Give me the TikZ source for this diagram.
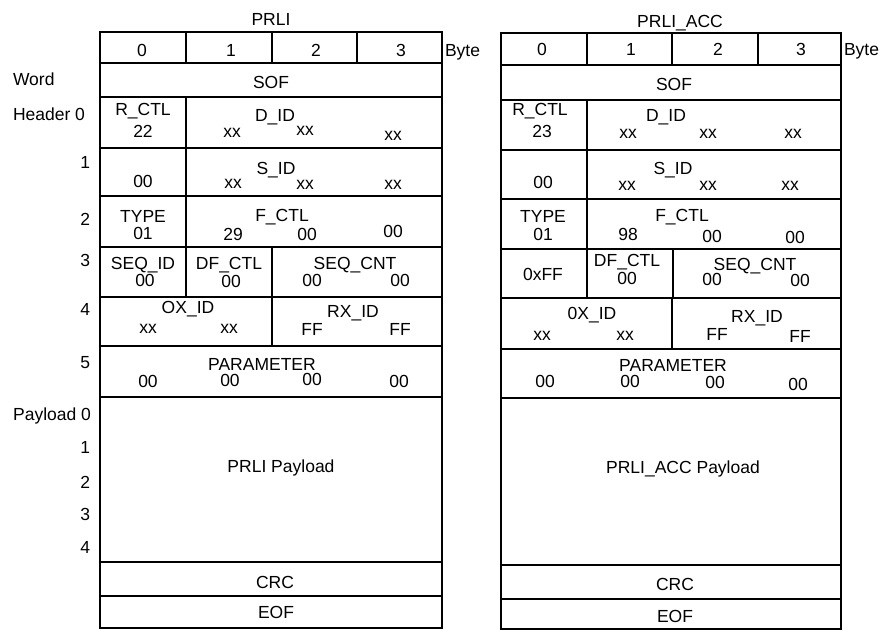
\documentclass[tikz,border=0pt]{standalone}
\usepackage{fontspec}
\setmainfont{Liberation Sans}
\tikzset{
  cellbox/.style={draw=black, line width=1.5pt, rectangle, inner sep=0pt, outer sep=0pt},
  txt/.style={anchor=base, inner sep=0pt, outer sep=0pt, font=\fontsize{17.5}{20}\selectfont},
  txtw/.style={txt, anchor=base west},
  txte/.style={txt, anchor=base east}
}
\newcommand\fcell[5]{\node[cellbox, minimum width={#4-#2}, minimum height={#5-#3}] (#1) at ({(#2+#4)/2},{(#3+#5)/2}) {};}
\newcommand\ftxt[4]{\node[txt] (#1) at (#2,#3) {#4};}
\begin{document}
\begin{tikzpicture}[x=1pt,y=-1pt]
\useasboundingbox (0,0) rectangle (886,630);
% ---------------- left table (PRLI) ----------------
\fcell{lb0}{100}{32}{186}{63}
\fcell{lb1}{186}{32}{272}{63}
\fcell{lb2}{272}{32}{357}{63}
\fcell{lb3}{357}{32}{442}{63}
\fcell{lsof}{100}{63}{442}{97}
\fcell{lh0a}{100}{97}{186}{148}
\fcell{lh0b}{186}{97}{442}{148}
\fcell{lh1a}{100}{148}{186}{196}
\fcell{lh1b}{186}{148}{442}{196}
\fcell{lh2a}{100}{196}{186}{247}
\fcell{lh2b}{186}{196}{442}{247}
\fcell{lh3a}{100}{247}{186}{297}
\fcell{lh3b}{186}{247}{272}{297}
\fcell{lh3c}{272}{247}{442}{297}
\fcell{lh4a}{100}{297}{272}{346}
\fcell{lh4b}{272}{297}{442}{346}
\fcell{lh5}{100}{346}{442}{397}
\fcell{lpay}{100}{397}{442}{562}
\fcell{lcrc}{100}{562}{442}{596}
\fcell{leof}{100}{596}{442}{628}
% ---------------- right table (PRLI_ACC) ----------------
\fcell{rb0}{501}{33}{587}{65}
\fcell{rb1}{587}{33}{672}{65}
\fcell{rb2}{672}{33}{758}{65}
\fcell{rb3}{758}{33}{841}{65}
\fcell{rsof}{501}{65}{841}{100}
\fcell{rh0a}{501}{100}{587}{150}
\fcell{rh0b}{587}{100}{841}{150}
\fcell{rh1a}{501}{150}{587}{199}
\fcell{rh1b}{587}{150}{841}{199}
\fcell{rh2a}{501}{199}{587}{249}
\fcell{rh2b}{587}{199}{841}{249}
\fcell{rh3a}{501}{249}{587}{298}
\fcell{rh3b}{587}{249}{673}{298}
\fcell{rh3c}{673}{249}{841}{298}
\fcell{rh4a}{501}{298}{672}{349}
\fcell{rh4b}{672}{298}{841}{349}
\fcell{rh5}{501}{349}{841}{398}
\fcell{rpay}{501}{398}{841}{565}
\fcell{rcrc}{501}{565}{841}{599}
\fcell{reof}{501}{599}{841}{629}
% ---------------- side labels ----------------
\ftxt{tl}{271}{25}{PRLI}
\ftxt{tr}{680}{27}{PRLI\_ACC}
\node[txtw] (bytel) at (445,56) {Byte};
\node[txtw] (byter) at (844,55) {Byte};
\node[txtw] (word) at (13,85) {Word};
\node[txtw] (hdr) at (13,120) {Header 0};
\node[txte] (w1) at (90,168) {1};
\node[txte] (w2) at (90,225) {2};
\node[txte] (w3) at (90,266) {3};
\node[txte] (w4) at (90,315) {4};
\node[txte] (w5) at (90,368) {5};
\node[txte] (pl0) at (91,420) {Payload 0};
\node[txte] (p1) at (90,453) {1};
\node[txte] (p2) at (90,488) {2};
\node[txte] (p3) at (90,520) {3};
\node[txte] (p4) at (90,553) {4};
% ---------------- left texts ----------------
\ftxt{lt0}{142}{56}{0}
\ftxt{lt1}{231}{56}{1}
\ftxt{lt2}{316}{56}{2}
\ftxt{lt3}{401}{56}{3}
\ftxt{ltsof}{271}{88}{SOF}
\ftxt{lrctl}{143}{115}{R\_CTL}
\ftxt{lrctlv}{143}{137}{22}
\ftxt{ldid}{275}{121}{D\_ID}
\ftxt{ldid1}{232}{137}{xx}
\ftxt{ldid2}{305}{135}{xx}
\ftxt{ldid3}{393}{140}{xx}
\ftxt{lh1v}{143}{187}{00}
\ftxt{lsid}{276}{174}{S\_ID}
\ftxt{lsid1}{233}{188}{xx}
\ftxt{lsid2}{305}{189}{xx}
\ftxt{lsid3}{393}{189}{xx}
\ftxt{ltype}{143}{222}{TYPE}
\ftxt{ltypev}{143}{239}{01}
\ftxt{lfctl}{282}{221}{F\_CTL}
\ftxt{lfctl1}{233}{240}{29}
\ftxt{lfctl2}{307}{240}{00}
\ftxt{lfctl3}{393}{237}{00}
\ftxt{lseqid}{143}{269}{SEQ\_ID}
\ftxt{lseqidv}{145}{286}{00}
\ftxt{ldfctl}{229}{269}{DF\_CTL}
\ftxt{ldfctlv}{231}{287}{00}
\ftxt{lseqcnt}{355}{269}{SEQ\_CNT}
\ftxt{lseqcnt1}{312}{286}{00}
\ftxt{lseqcnt2}{400}{286}{00}
\ftxt{loxid}{188}{313}{OX\_ID}
\ftxt{loxid1}{148}{333}{xx}
\ftxt{loxid2}{229}{333}{xx}
\ftxt{lrxid}{353}{317}{RX\_ID}
\ftxt{lrxid1}{312}{335}{FF}
\ftxt{lrxid2}{400}{335}{FF}
\ftxt{lparam}{262}{370}{PARAMETER}
\ftxt{lpar1}{148}{387}{00}
\ftxt{lpar2}{230}{386}{00}
\ftxt{lpar3}{312}{385}{00}
\ftxt{lpar4}{399}{387}{00}
\ftxt{lpayt}{281}{472}{PRLI Payload}
\ftxt{lcrct}{275}{588}{CRC}
\ftxt{leoft}{276}{618}{EOF}
% ---------------- right texts ----------------
\ftxt{rt0}{542}{55}{0}
\ftxt{rt1}{631}{55}{1}
\ftxt{rt2}{718}{55}{2}
\ftxt{rt3}{801}{55}{3}
\ftxt{rtsof}{674}{90}{SOF}
\ftxt{rrctl}{540}{115}{R\_CTL}
\ftxt{rrctlv}{542}{137}{23}
\ftxt{rdid}{666}{121}{D\_ID}
\ftxt{rdid1}{628}{138}{xx}
\ftxt{rdid2}{708}{138}{xx}
\ftxt{rdid3}{793}{138}{xx}
\ftxt{rh1v}{543}{188}{00}
\ftxt{rsid}{673}{174}{S\_ID}
\ftxt{rsid1}{627}{190}{xx}
\ftxt{rsid2}{708}{190}{xx}
\ftxt{rsid3}{790}{190}{xx}
\ftxt{rtype}{543}{222}{TYPE}
\ftxt{rtypev}{543}{240}{01}
\ftxt{rfctl}{682}{221}{F\_CTL}
\ftxt{rfctl1}{628}{240}{98}
\ftxt{rfctl2}{712}{242}{00}
\ftxt{rfctl3}{795}{243}{00}
\ftxt{rseqid}{543}{280}{0xFF}
\ftxt{rdfctl}{627}{266}{DF\_CTL}
\ftxt{rdfctlv}{627}{284}{00}
\ftxt{rseqcnt}{755}{270}{SEQ\_CNT}
\ftxt{rseqcnt1}{712}{285}{00}
\ftxt{rseqcnt2}{800}{286}{00}
\ftxt{roxid}{592}{319}{0X\_ID}
\ftxt{roxid1}{542}{340}{xx}
\ftxt{roxid2}{625}{340}{xx}
\ftxt{rrxid}{757}{322}{RX\_ID}
\ftxt{rrxid1}{717}{340}{FF}
\ftxt{rrxid2}{800}{342}{FF}
\ftxt{rparam}{673}{371}{PARAMETER}
\ftxt{rpar1}{545}{387}{00}
\ftxt{rpar2}{630}{387}{00}
\ftxt{rpar3}{715}{388}{00}
\ftxt{rpar4}{798}{390}{00}
\ftxt{rpayt}{683}{473}{PRLI\_ACC Payload}
\ftxt{rcrct}{675}{590}{CRC}
\ftxt{reoft}{675}{622}{EOF}
\end{tikzpicture}
\end{document}
